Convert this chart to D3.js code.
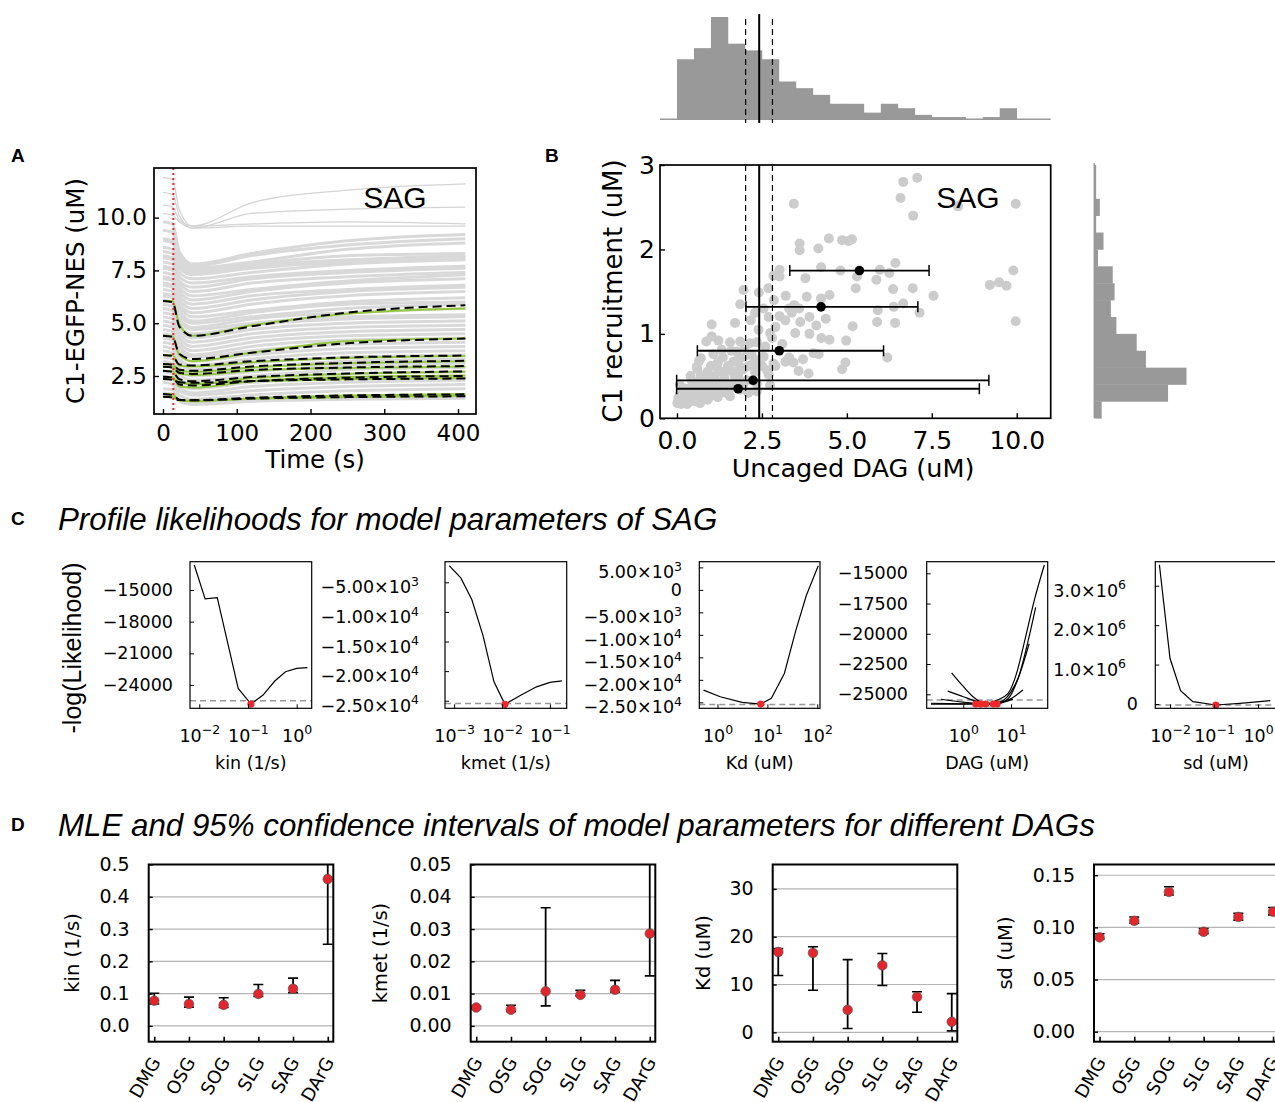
<!DOCTYPE html>
<html>
<head>
<meta charset="utf-8">
<title>SAG fits, profile likelihoods and MLEs</title>
<script src="https://d3js.org/d3.v7.min.js"></script>
<style>
  body { margin: 0; background: #fff; }
  svg text { font-family: 'DejaVu Sans', sans-serif; fill: #000; }
</style>
</head>
<body>
<div id="fig"></div>
<script>
// ---------- data : panel A (traces, uM, at the sample times) ----------
const traceTimes = [0, 13, 22, 40, 120, 250, 410];
const upperTraces = [
  [11.9, 11.8, 10.4, 9.6, 10.7, 11.3, 11.6],
  [11.2, 11.1, 10.1, 9.5, 10.2, 10.4, 10.5],
  [10.6, 10.5, 9.9, 9.6, 9.7, 9.8, 9.7],
  [10.2, 10.1, 9.8, 9.5, 9.6, 9.6, 9.6]
];
const bandTraces = [
  [9.8, 9.7, 8.4, 7.8, 8.3, 8.9, 9.2],
  [9.4, 9.3, 8.2, 7.7, 8.2, 8.7, 9.0],
  [9.0, 8.9, 8.0, 7.6, 7.9, 8.5, 8.8],
  [8.9, 8.8, 7.9, 7.5, 7.8, 8.2, 8.3],
  [8.6, 8.5, 7.7, 7.4, 7.7, 8.0, 8.2],
  [8.4, 8.3, 7.6, 7.3, 7.6, 7.9, 8.1],
  [8.2, 8.1, 7.4, 7.1, 7.4, 7.8, 8.0],
  [8.1, 8.0, 7.2, 6.9, 7.2, 7.5, 7.7],
  [7.9, 7.8, 7.0, 6.7, 7.1, 7.4, 7.6],
  [7.7, 7.6, 6.9, 6.5, 6.9, 7.2, 7.4],
  [7.6, 7.5, 6.7, 6.3, 6.6, 7.0, 7.3],
  [7.4, 7.3, 6.5, 6.1, 6.5, 6.9, 7.1],
  [7.2, 7.1, 6.3, 5.9, 6.3, 6.6, 6.8],
  [7.1, 7.0, 6.1, 5.7, 6.1, 6.5, 6.7],
  [6.9, 6.8, 5.9, 5.5, 5.9, 6.3, 6.5],
  [6.8, 6.7, 5.8, 5.3, 5.6, 6.0, 6.2],
  [6.6, 6.5, 5.6, 5.1, 5.5, 5.9, 6.0],
  [6.4, 6.3, 5.4, 5.0, 5.3, 5.7, 5.9],
  [6.3, 6.2, 5.2, 4.8, 5.2, 5.5, 5.7],
  [6.1, 6.0, 5.1, 4.7, 5.0, 5.3, 5.4],
  [5.9, 5.8, 4.9, 4.5, 4.9, 5.2, 5.3],
  [5.7, 5.6, 4.7, 4.3, 4.7, 5.0, 5.1],
  [5.5, 5.4, 4.5, 4.1, 4.5, 4.8, 4.9],
  [5.3, 5.2, 4.3, 3.9, 4.3, 4.6, 4.7],
  [5.1, 5.0, 4.1, 3.7, 4.1, 4.4, 4.5],
  [4.9, 4.8, 3.9, 3.5, 3.9, 4.2, 4.3],
  [4.7, 4.6, 3.7, 3.4, 3.7, 4.0, 4.1],
  [4.5, 4.4, 3.5, 3.2, 3.5, 3.8, 3.9],
  [4.3, 4.2, 3.3, 3.0, 3.3, 3.6, 3.7],
  [4.1, 4.0, 3.1, 2.8, 3.1, 3.4, 3.5],
  [3.9, 3.8, 2.9, 2.6, 2.9, 3.2, 3.3],
  [3.7, 3.6, 2.8, 2.5, 2.7, 3.0, 3.1],
  [3.4, 3.3, 2.6, 2.3, 2.5, 2.8, 2.9],
  [3.2, 3.1, 2.4, 2.1, 2.4, 2.6, 2.7],
  [3.0, 2.9, 2.2, 1.9, 2.2, 2.4, 2.5],
  [2.7, 2.6, 2.0, 1.7, 2.0, 2.2, 2.3],
  [2.5, 2.4, 1.8, 1.6, 1.8, 2.0, 2.1],
  [2.2, 2.1, 1.6, 1.4, 1.6, 1.8, 1.9],
  [1.9, 1.85, 1.4, 1.25, 1.4, 1.5, 1.6],
  [1.7, 1.65, 1.3, 1.15, 1.3, 1.4, 1.45]
];
const greenTraces = [
  [6.05, 6.05, 4.95, 4.4, 4.9, 5.45, 5.7],
  [4.4, 4.38, 3.5, 3.2, 3.6, 4.15, 4.28],
  [3.5, 3.48, 3.0, 2.95, 3.15, 3.35, 3.45],
  [3.07, 3.05, 2.75, 2.7, 2.9, 3.1, 3.2],
  [2.94, 2.92, 2.6, 2.55, 2.75, 2.88, 2.95],
  [2.75, 2.72, 2.25, 2.1, 2.4, 2.6, 2.7],
  [2.47, 2.45, 2.0, 1.95, 2.25, 2.45, 2.52],
  [2.36, 2.34, 2.2, 2.15, 2.25, 2.35, 2.4],
  [1.65, 1.63, 1.35, 1.3, 1.45, 1.58, 1.65],
  [1.52, 1.5, 1.35, 1.33, 1.42, 1.5, 1.55]
];
const fitTraces = [
  [6.05, 6.0, 4.85, 4.4, 4.85, 5.5, 5.85],
  [4.4, 4.35, 3.55, 3.3, 3.6, 4.05, 4.27],
  [3.5, 3.45, 3.05, 3.0, 3.2, 3.38, 3.47],
  [3.07, 3.03, 2.8, 2.75, 2.95, 3.12, 3.22],
  [2.94, 2.9, 2.65, 2.6, 2.78, 2.9, 2.97],
  [2.75, 2.7, 2.35, 2.25, 2.45, 2.62, 2.72],
  [2.47, 2.43, 2.1, 2.05, 2.25, 2.42, 2.5],
  [2.36, 2.32, 2.2, 2.18, 2.26, 2.34, 2.38],
  [1.65, 1.6, 1.38, 1.35, 1.47, 1.58, 1.63],
  [1.52, 1.48, 1.36, 1.35, 1.43, 1.5, 1.54]
];
const uncageTime = 14;
const aXTicks = [0, 100, 200, 300, 400];
const aYTicks = [2.5, 5.0, 7.5, 10.0];

// ---------- data : panel B ----------
const cellPoints = [
  [7.07,2.85],[6.66,2.80],[6.58,2.61],[6.95,2.40],[8.27,2.51],[9.97,2.54],[3.44,2.54],
  [3.61,2.07],[3.61,1.99],[4.16,2.01],[4.47,2.13],[4.86,2.11],[5.05,2.10],[5.15,2.12],
  [4.24,1.79],[4.81,1.75],[5.30,1.68],[5.97,1.76],[6.25,1.72],[6.43,1.84],[5.87,1.64],
  [3.78,1.66],[3.02,1.76],[3.02,1.68],[2.84,1.69],[5.26,1.54],[6.36,1.53],[6.94,1.54],
  [7.55,1.45],[9.21,1.58],[9.48,1.61],[9.70,1.57],[9.90,1.75],[9.97,1.15],[7.14,1.25],
  [6.38,1.32],[6.66,1.36],[5.91,1.28],[5.89,1.14],[6.42,1.13],[5.17,1.09],[4.38,1.18],
  [4.49,1.46],[4.24,1.42],[3.82,1.44],[3.45,1.34],[3.63,1.14],[3.38,1.25],[3.19,1.16],
  [3.02,1.21],[2.69,1.54],[2.41,1.49],[1.96,1.52],[1.86,1.35],[2.17,1.16],[1.71,1.13],
  [1.02,1.11],[2.40,1.05],[2.74,1.01],[3.48,1.01],[3.90,1.00],[4.25,0.95],[4.49,0.93],
  [4.98,0.92],[4.02,0.77],[4.17,0.76],[3.71,0.70],[3.43,0.66],[3.19,0.67],[3.87,0.53],
  [3.58,0.56],[4.96,0.66],[4.86,0.58],[6.19,0.72],[0.86,0.91],[1.22,0.92],[1.56,0.90],
  [1.86,0.91],[2.15,0.89],[1.32,0.81],[1.07,0.76],[0.70,0.71],[0.58,0.61],[0.78,0.49],
  [0.43,0.45],[0.14,0.34],[0.04,0.24],[0.01,0.18],[0.24,0.24],[0.38,0.20],[0.68,0.18],
  [0.97,0.26],[1.17,0.34],[1.47,0.41],[1.71,0.49],[1.86,0.61],[1.66,0.67],[2.06,0.75],
  [2.25,0.65],[2.55,0.73],[2.84,0.65],[2.65,0.57],[2.06,0.45],[1.86,0.34],[1.56,0.26],
  [1.27,0.41],[0.97,0.49],[1.17,0.61],[1.47,0.57],[0.29,0.34],[0.48,0.30],[0.68,0.41],
  [0.88,0.37],[0.19,0.18],[0.09,0.28],[1.76,0.79],[2.35,0.41],[2.74,0.39],[1.02,0.97],
  [0.05,0.22],[0.10,0.30],[0.15,0.20],[0.20,0.28],[0.25,0.35],[0.30,0.22],[0.35,0.30],
  [0.40,0.25],[0.45,0.38],[0.50,0.30],[0.55,0.42],[0.60,0.33],[0.65,0.26],[0.70,0.50],
  [0.75,0.36],[0.80,0.30],[0.85,0.44],[0.90,0.55],[0.95,0.40],[1.00,0.62],[1.05,0.35],
  [1.10,0.50],[1.15,0.44],[1.20,0.66],[1.25,0.30],[1.30,0.55],[1.35,0.72],[1.40,0.48],
  [1.50,0.62],[1.55,0.35],[1.60,0.80],[1.65,0.55],[1.70,0.42],[1.75,0.68],[1.80,0.50],
  [1.90,0.72],[1.95,0.58],[2.00,0.85],[2.10,0.62],[2.20,0.75],[2.30,0.55],[2.35,0.90],
  [2.45,0.70],[2.50,0.62],[2.60,0.85],[2.70,0.52],[2.80,0.95],[2.90,0.62],[3.10,0.88],
  [3.30,0.72],[0.12,0.17],[0.30,0.17],[0.55,0.20],[0.90,0.22],[1.20,0.25],[1.45,0.30],
  [0.08,0.40],[0.40,0.50],[0.60,0.58],[0.65,0.68],[2.30,1.25],[2.55,1.30],[2.70,1.20],
  [2.90,1.08],[3.30,1.30],[3.60,1.30],[3.20,1.45],[2.85,1.40],[3.90,1.20],[4.10,1.10],
  [2.35,0.32],[2.10,0.30],[1.95,0.40]
];
const binMeanX = [5.37, 4.24, 3.01, 2.24, 1.80];
const binMeanY = [1.75, 1.32, 0.80, 0.45, 0.35];
const binLowX = [3.32, 2.03, 0.60, -0.01, -0.01];
const binHighX = [7.42, 7.09, 6.08, 9.18, 8.90];
const dagMedian = 2.42;
const dagCI = [2.02, 2.81];
const bXTicks = [0, 2.5, 5, 7.5, 10];
const bYTicks = [0, 1, 2, 3];
const histXEdges = [0,0.5,1,1.5,2,2.5,3,3.5,4,4.5,5,5.5,6,6.5,7,7.5,8,8.5,9,9.5,10];
const histXCounts = [27,32,46,34,31,27,17,14,11,7,7,3,7,5,2,1,1,0,1,5];
const histYEdges = [0,0.2,0.4,0.6,0.8,1.0,1.2,1.4,1.6,1.8,2.0,2.2,2.4,2.6,2.8,3.0];
const histYCounts = [4,40,50,28,23,12,9,11,10,2,5,1,3,1,1];

// ---------- data : panel C (profile -log likelihoods) ----------
const kinProfile = [[0.0079,-12630],[0.0132,-15850],[0.0234,-15730],[0.063,-24320],[0.115,-25800],
  [0.204,-24950],[0.355,-23620],[0.589,-22740],[1.0,-22420],[1.66,-22350]];
const kmetProfile = [[0.00079,-2190],[0.00138,-4260],[0.00234,-7910],[0.0040,-13960],[0.0068,-21810],
  [0.0115,-25600],[0.0251,-24040],[0.0525,-22650],[0.1,-21910],[0.178,-21640]];
const kdProfile = [[0.525,-22280],[1.135,-23760],[3.13,-25000],[7.35,-25380],[12.0,-24120],
  [21.9,-18580],[37.2,-9000],[60.3,-1260],[104.7,5380]];
const dagProfiles = [
  [[0.57,-23220],[1.0,-24350],[1.6,-25200],[2.95,-25800],[5.0,-25500],[8.8,-24900],[13.2,-23230],[19.6,-20500],[31,-17200],[50,-14310]],
  [[0.47,-24730],[1.0,-25200],[2.0,-25600],[4.27,-25800],[7.0,-25500],[10,-24800],[14.5,-23550],[21.4,-21070],[33,-17810]],
  [[0.34,-25410],[1.0,-25650],[2.5,-25780],[5.13,-25800],[9.0,-25300],[15.5,-23250],[24,-20820]],
  [[0.21,-25740],[1.0,-25790],[2.32,-25800],[5.0,-25700],[9.4,-25410],[17.8,-24650]],
  [[0.21,-25820],[0.8,-25810],[1.82,-25800],[4.0,-25780],[7.0,-25650],[11,-25400]]
];
const sdProfile = [[0.00575,3530000],[0.01,1160000],[0.0174,340000],[0.0331,60000],[0.11,-25800],
  [0.389,17000],[1.9,84000]];
const kinMleC = [0.115, -25800];
const kmetMleC = [0.0115, -25600];
const kdMleC = [7.35, -25380];
const dagMleC = [1.82, 2.32, 2.95, 4.27, 5.13];
const sdMleC = [0.11, -25800];
const nllThreshold = -25480;
const kinYTicksC = [-15000, -18000, -21000, -24000];
const kmetYTicksC = [-5000, -10000, -15000, -20000, -25000];
const kdYTicksC = [5000, 0, -5000, -10000, -15000, -20000, -25000];
const dagYTicksC = [-15000, -17500, -20000, -22500, -25000];
const sdYTicksC = [0, 1000000, 2000000, 3000000];

// ---------- data : panel D (MLE and 95% CI) ----------
const dagNames = ["DMG", "OSG", "SOG", "SLG", "SAG", "DArG"];
const kinMle = [0.078, 0.068, 0.065, 0.099, 0.115, 0.455];
const kinLo = [0.068, 0.058, 0.057, 0.091, 0.103, 0.253];
const kinHi = [0.101, 0.089, 0.087, 0.128, 0.148, 0.62];
const kmetMle = [0.0057, 0.0050, 0.0107, 0.0096, 0.0112, 0.0286];
const kmetLo = [0.0053, 0.0045, 0.0062, 0.0093, 0.0105, 0.0155];
const kmetHi = [0.0060, 0.0064, 0.0366, 0.0110, 0.0141, 0.065];
const kdMle = [16.8, 16.6, 4.7, 14.0, 7.4, 2.2];
const kdLo = [11.9, 8.8, 0.8, 9.8, 4.2, 0.3];
const kdHi = [17.5, 17.9, 15.2, 16.5, 8.5, 8.1];
const sdMle = [0.0904, 0.1063, 0.134, 0.0958, 0.110, 0.115];
const sdLo = [0.0890, 0.104, 0.131, 0.094, 0.107, 0.112];
const sdHi = [0.0939, 0.110, 0.139, 0.099, 0.1134, 0.119];
const kinYTicksD = [0, 0.1, 0.2, 0.3, 0.4, 0.5];
const kmetYTicksD = [0, 0.01, 0.02, 0.03, 0.04, 0.05];
const kdYTicksD = [0, 10, 20, 30];
const sdYTicksD = [0, 0.05, 0.10, 0.15];

// ---------- drawing ----------
const MINUS = "\u2212";
const ARIAL = "'Liberation Sans', Arial, sans-serif";
const svg = d3.select("#fig").append("svg").attr("width", 1275).attr("height", 1102);
const defs = svg.append("defs");
let clipCount = 0;
function clip(x0, y0, x1, y1) {
  const id = "clip" + (clipCount++);
  defs.append("clipPath").attr("id", id).append("rect")
    .attr("x", x0).attr("y", y0).attr("width", x1 - x0).attr("height", y1 - y0);
  return "url(#" + id + ")";
}
function box(x0, y0, x1, y1, w) {
  svg.append("rect").attr("x", x0).attr("y", y0).attr("width", x1 - x0).attr("height", y1 - y0)
    .attr("fill", "none").attr("stroke", "#000").attr("stroke-width", w);
}
function styleAxis(g, size, tickW) {
  g.select(".domain").remove();
  g.attr("font-family", null).attr("font-size", size);
  g.selectAll(".tick line").attr("stroke", "#000").attr("stroke-width", tickW);
  g.selectAll(".tick text").attr("fill", "#000");
  return g;
}
function label(x, y, txt, size, opts = {}) {
  const t = svg.append("text").attr("x", x).attr("y", y).attr("font-size", size).text(txt);
  if (opts.anchor) t.attr("text-anchor", opts.anchor);
  if (opts.family) t.style("font-family", opts.family);
  if (opts.weight) t.attr("font-weight", opts.weight);
  if (opts.italic) t.attr("font-style", "italic");
  if (opts.rotate) t.attr("transform", `rotate(${opts.rotate},${x},${y})`);
  return t;
}
const fmt1 = v => d3.format(".1f")(v);

// panel letters and titles
label(11, 162, "A", 19, { family: ARIAL, weight: "bold" });
label(545, 162, "B", 19, { family: ARIAL, weight: "bold" });
label(11, 525, "C", 19, { family: ARIAL, weight: "bold" });
label(11, 831, "D", 19, { family: ARIAL, weight: "bold" });
label(58, 530, "Profile likelihoods for model parameters of SAG", 31.3, { family: ARIAL, italic: true });
label(58, 836, "MLE and 95% confidence intervals of model parameters for different DAGs", 31.3, { family: ARIAL, italic: true });

// ===== Panel A =====
{
  const X0 = 154, X1 = 476, Y0 = 168, Y1 = 414;
  const x = d3.scaleLinear().domain([-12.2, 424.4]).range([X0, X1]);
  const y = d3.scaleLinear().domain([0.7, 12.35]).range([Y1, Y0]);
  const g = svg.append("g").attr("clip-path", clip(X0, Y0, X1, Y1));
  const line = d3.line().x((d, i) => x(traceTimes[i])).y(d => y(d)).curve(d3.curveMonotoneX);
  g.selectAll(".upper").data(upperTraces).join("path").attr("d", line)
    .attr("fill", "none").attr("stroke", "#d4d4d4").attr("stroke-width", 1.3);
  g.selectAll(".band").data(bandTraces).join("path").attr("d", line)
    .attr("fill", "none").attr("stroke", "#d9d9d9").attr("stroke-width", 3);
  g.selectAll(".green").data(greenTraces).join("path").attr("d", line)
    .attr("fill", "none").attr("stroke", "#92c83e").attr("stroke-width", 2);
  g.selectAll(".fit").data(fitTraces).join("path").attr("d", line)
    .attr("fill", "none").attr("stroke", "#000").attr("stroke-width", 2).attr("stroke-dasharray", "9,5");
  g.append("line").attr("x1", x(uncageTime)).attr("x2", x(uncageTime)).attr("y1", Y0).attr("y2", Y1)
    .attr("stroke", "#f0282d").attr("stroke-width", 2).attr("stroke-dasharray", "2,3");
  box(X0, Y0, X1, Y1, 1.7);
  styleAxis(svg.append("g").attr("transform", `translate(0,${Y1})`)
    .call(d3.axisBottom(x).tickValues(aXTicks).tickSize(-5).tickPadding(11).tickFormat(d3.format("d"))), 23, 1.4);
  styleAxis(svg.append("g").attr("transform", `translate(${X0},0)`)
    .call(d3.axisLeft(y).tickValues(aYTicks).tickSize(-5).tickPadding(7).tickFormat(fmt1)), 23, 1.4);
  label(315, 468, "Time (s)", 24.5, { anchor: "middle" });
  label(75, 291, "C1-EGFP-NES (uM)", 24.5, { anchor: "middle", rotate: -90 }).attr("dy", "0.35em");
  label(395, 208, "SAG", 30, { anchor: "middle", family: ARIAL });
}

// ===== Panel B =====
{
  const X0 = 660, X1 = 1050.7, Y0 = 165, Y1 = 418.3;
  const x = d3.scaleLinear().domain([-0.5, 11.0]).range([X0, X1]);
  const y = d3.scaleLinear().domain([0, 3]).range([Y1, Y0]);
  const g = svg.append("g").attr("clip-path", clip(X0, Y0, X1, Y1));
  g.selectAll("circle.cell").data(cellPoints).join("circle")
    .attr("cx", d => x(d[0])).attr("cy", d => y(d[1])).attr("r", 5).attr("fill", "#cccccc");
  // median and CI of uncaged DAG
  const vlines = [{ v: dagMedian, dash: null, w: 2 }, { v: dagCI[0], dash: "6,4", w: 1.2 }, { v: dagCI[1], dash: "6,4", w: 1.2 }];
  vlines.forEach(l => {
    g.append("line").attr("x1", x(l.v)).attr("x2", x(l.v)).attr("y1", Y0).attr("y2", Y1)
      .attr("stroke", "#000").attr("stroke-width", l.w).attr("stroke-dasharray", l.dash);
  });
  binMeanX.forEach((mx, i) => {
    const yy = y(binMeanY[i]);
    g.append("line").attr("x1", x(binLowX[i])).attr("x2", x(binHighX[i])).attr("y1", yy).attr("y2", yy)
      .attr("stroke", "#000").attr("stroke-width", 1.8);
    [binLowX[i], binHighX[i]].forEach(e => g.append("line").attr("x1", x(e)).attr("x2", x(e))
      .attr("y1", yy - 5.5).attr("y2", yy + 5.5).attr("stroke", "#000").attr("stroke-width", 1.5));
    g.append("circle").attr("cx", x(mx)).attr("cy", yy).attr("r", 4.8).attr("fill", "#000");
  });
  box(X0, Y0, X1, Y1, 1.7);
  styleAxis(svg.append("g").attr("transform", `translate(0,${Y1})`)
    .call(d3.axisBottom(x).tickValues(bXTicks).tickSize(-5).tickPadding(13).tickFormat(fmt1)), 25, 1.4);
  styleAxis(svg.append("g").attr("transform", `translate(${X0},0)`)
    .call(d3.axisLeft(y).tickValues(bYTicks).tickSize(-5).tickPadding(5).tickFormat(d3.format("d"))), 25, 1.4);
  label(853, 477, "Uncaged DAG (uM)", 25.5, { anchor: "middle" });
  label(613, 291, "C1 recruitment (uM)", 26, { anchor: "middle", rotate: -90 }).attr("dy", "0.35em");
  label(968, 208, "SAG", 30, { anchor: "middle", family: ARIAL });

  // top marginal histogram
  const hy = d3.scaleLinear().domain([0, 46]).range([119.3, 17]);
  svg.append("line").attr("x1", X0).attr("x2", X1).attr("y1", 119.3).attr("y2", 119.3)
    .attr("stroke", "#999").attr("stroke-width", 1.5);
  svg.selectAll("rect.hx").data(histXCounts).join("rect")
    .attr("x", (d, i) => x(histXEdges[i])).attr("width", (d, i) => x(histXEdges[i + 1]) - x(histXEdges[i]) + 0.3)
    .attr("y", d => hy(d)).attr("height", d => 119.3 - hy(d)).attr("fill", "#999999");
  vlines.forEach(l => {
    svg.append("line").attr("x1", x(l.v)).attr("x2", x(l.v)).attr("y1", l.dash ? 19 : 14).attr("y2", 123)
      .attr("stroke", "#000").attr("stroke-width", l.w).attr("stroke-dasharray", l.dash);
  });

  // right marginal histogram
  const hx = d3.scaleLinear().domain([0, 50]).range([1094.3, 1186.5]);
  svg.append("line").attr("x1", 1094.3).attr("x2", 1094.3).attr("y1", 163.3).attr("y2", Y1)
    .attr("stroke", "#999").attr("stroke-width", 1.5);
  svg.selectAll("rect.hy").data(histYCounts).join("rect")
    .attr("x", 1094.3).attr("width", d => hx(d) - 1094.3)
    .attr("y", (d, i) => y(histYEdges[i + 1])).attr("height", (d, i) => y(histYEdges[i]) - y(histYEdges[i + 1]) + 0.3)
    .attr("fill", "#999999");
}

// ===== Panel C =====
function plainNeg(v) { return [v < 0 ? MINUS + Math.abs(v) : String(v), null]; }
function sciFmt(dec) {
  return v => {
    if (v === 0) return ["0", null];
    const e = Math.floor(Math.log10(Math.abs(v)) + 1e-9);
    const m = Math.abs(v) / Math.pow(10, e);
    return [(v < 0 ? MINUS : "") + m.toFixed(dec) + "\u00d710", String(e)];
  };
}
function expFmt(v) { return ["10", String(Math.round(Math.log10(v))).replace("-", MINUS)]; }

function profilePanel(p) {
  const Y0 = 561.7, Y1 = 708.3;
  const x = d3.scaleLog().domain(p.xDom).range([p.x0, p.x1]);
  const y = d3.scaleLinear().domain(p.yDom).range([Y1, Y0]);
  const g = svg.append("g").attr("clip-path", clip(p.x0, Y0, p.x1, Y1));
  g.append("line").attr("x1", p.x0).attr("x2", p.x1).attr("y1", y(nllThreshold)).attr("y2", y(nllThreshold))
    .attr("stroke", "#999").attr("stroke-width", 1.5).attr("stroke-dasharray", "6,4");
  const line = d3.line().x(d => x(d[0])).y(d => y(d[1])).curve(p.smooth ? d3.curveMonotoneX : d3.curveLinear);
  g.selectAll("path.prof").data(p.curves).join("path").attr("d", line)
    .attr("fill", "none").attr("stroke", "#000").attr("stroke-width", 1.2);
  g.selectAll("circle.mle").data(p.mles).join("circle")
    .attr("cx", d => x(d[0])).attr("cy", d => y(d[1])).attr("r", 3.6).attr("fill", "#f0282d");
  box(p.x0, Y0, p.x1, Y1, 1.2);

  const gx = styleAxis(svg.append("g").attr("transform", `translate(0,${Y1})`)
    .call(d3.axisBottom(x).tickValues(p.xTicks).tickSize(-4).tickPadding(21).tickFormat("")), 17.5, 1);
  gx.selectAll(".tick text").each(function (v) {
    const t = d3.select(this).text(null);
    const parts = expFmt(v);
    t.append("tspan").text(parts[0]);
    t.append("tspan").attr("dy", -8).attr("font-size", 12.5).text(parts[1]);
  });
  const pad = p.x0 - p.labelRight;
  const gy = styleAxis(svg.append("g").attr("transform", `translate(${p.x0},0)`)
    .call(d3.axisLeft(y).tickValues(p.yTicks).tickSize(-4).tickPadding(pad).tickFormat("")), 17.5, 1);
  gy.selectAll(".tick text").each(function (v) {
    const t = d3.select(this).text(null);
    const parts = p.fmt(v);
    if (parts[1] === null) {
      t.text(parts[0]);
      if (p.zeroShift) t.attr("x", -pad + p.zeroShift);
    } else {
      t.attr("dy", 10.6);
      t.append("tspan").text(parts[0]);
      t.append("tspan").attr("dy", -7.5).attr("font-size", 12.5).text(parts[1]);
    }
  });
  label((p.x0 + p.x1) / 2, 769, p.name, 17.5, { anchor: "middle" });
}

profilePanel({ name: "kin (1/s)", x0: 190, x1: 311.7, xDom: [Math.pow(10, -2.19), Math.pow(10, 0.308)],
  yDom: [-26206, -12320], curves: [kinProfile], mles: [kinMleC], xTicks: [0.01, 0.1, 1],
  yTicks: kinYTicksC, fmt: plainNeg, labelRight: 173 });
profilePanel({ name: "kmet (1/s)", x0: 445, x1: 566.7, xDom: [Math.pow(10, -3.19), Math.pow(10, -0.65)],
  yDom: [-26277, -1521], curves: [kmetProfile], mles: [kmetMleC], xTicks: [0.001, 0.01, 0.1],
  yTicks: kmetYTicksC, fmt: sciFmt(2), labelRight: 419 });
profilePanel({ name: "Kd (uM)", x0: 699.3, x1: 820, xDom: [Math.pow(10, -0.365), Math.pow(10, 2.055)],
  yDom: [-26327, 6261], curves: [kdProfile], mles: [kdMleC], xTicks: [1, 10, 100],
  yTicks: kdYTicksC, fmt: sciFmt(2), labelRight: 682 });
profilePanel({ name: "DAG (uM)", x0: 926.7, x1: 1047.7, xDom: [Math.pow(10, -0.767), Math.pow(10, 1.77)],
  yDom: [-26157, -14041], curves: dagProfiles, mles: dagMleC.map(v => [v, -25800]), xTicks: [1, 10],
  yTicks: dagYTicksC, fmt: plainNeg, labelRight: 908, smooth: true });
profilePanel({ name: "sd (uM)", x0: 1155.3, x1: 1276.8, xDom: [Math.pow(10, -2.334), Math.pow(10, 0.427)],
  yDom: [-109000, 3610000], curves: [sdProfile], mles: [sdMleC], xTicks: [0.01, 0.1, 1],
  yTicks: sdYTicksC, fmt: sciFmt(1), labelRight: 1126, zeroShift: 12 });
label(72, 648, "-log(Likelihood)", 25, { anchor: "middle", rotate: -90, family: ARIAL }).attr("dy", "0.35em");

// ===== Panel D =====
function mlePanel(p) {
  const Y0 = 864.5, Y1 = 1041.7;
  const x = d3.scalePoint().domain(dagNames).range([p.x0, p.x0 + 184.6]).padding(0.16);
  const y = d3.scaleLinear().domain(p.yDom).range([Y1, Y0]);
  const x1 = p.x0 + 184.6;
  svg.selectAll(null).data(p.yTicks).join("line")
    .attr("x1", p.x0).attr("x2", x1).attr("y1", d => y(d)).attr("y2", d => y(d))
    .attr("stroke", "#b3b3b3").attr("stroke-width", 1.2);
  const g = svg.append("g").attr("clip-path", clip(p.x0, Y0, x1, Y1));
  dagNames.forEach((n, i) => {
    const cx = x(n);
    g.append("line").attr("x1", cx).attr("x2", cx).attr("y1", y(p.lo[i])).attr("y2", y(p.hi[i]))
      .attr("stroke", "#000").attr("stroke-width", 1.8);
    [p.lo[i], p.hi[i]].forEach(e => g.append("line").attr("x1", cx - 5).attr("x2", cx + 5)
      .attr("y1", y(e)).attr("y2", y(e)).attr("stroke", "#000").attr("stroke-width", 1.6));
  });
  g.selectAll("circle.mle").data(p.mle).join("circle")
    .attr("cx", (d, i) => x(dagNames[i])).attr("cy", d => y(d)).attr("r", 4.8)
    .attr("fill", "#e3262b").attr("stroke", "#555").attr("stroke-width", 0.7);
  box(p.x0, Y0, x1, Y1, 2);
  styleAxis(svg.append("g").attr("transform", `translate(${p.x0},0)`)
    .call(d3.axisLeft(y).tickValues(p.yTicks).tickSize(-4).tickPadding(19).tickFormat(p.fmt)), 19, 1.4);
  styleAxis(svg.append("g").attr("transform", `translate(0,${Y1})`)
    .call(d3.axisBottom(x).tickSize(-5).tickFormat("")), 18, 1.6);
  dagNames.forEach(n => label(x(n) + 7, 1062, n, 18, { anchor: "end", rotate: -60 }));
  label(p.labelX, 953, p.name, 19.5, { anchor: "middle", rotate: -90 }).attr("dy", "0.35em");
}
mlePanel({ name: "kin (1/s)", x0: 148.7, yDom: [-0.049, 0.5], mle: kinMle, lo: kinLo, hi: kinHi,
  yTicks: kinYTicksD, fmt: d3.format(".1f"), labelX: 72 });
mlePanel({ name: "kmet (1/s)", x0: 470.7, yDom: [-0.0049, 0.05], mle: kmetMle, lo: kmetLo, hi: kmetHi,
  yTicks: kmetYTicksD, fmt: d3.format(".2f"), labelX: 380 });
mlePanel({ name: "Kd (uM)", x0: 772.7, yDom: [-1.96, 35.1], mle: kdMle, lo: kdLo, hi: kdHi,
  yTicks: kdYTicksD, fmt: d3.format("d"), labelX: 703 });
mlePanel({ name: "sd (uM)", x0: 1094, yDom: [-0.0096, 0.1603], mle: sdMle, lo: sdLo, hi: sdHi,
  yTicks: sdYTicksD, fmt: d3.format(".2f"), labelX: 1005 });
</script>
</body>
</html>
